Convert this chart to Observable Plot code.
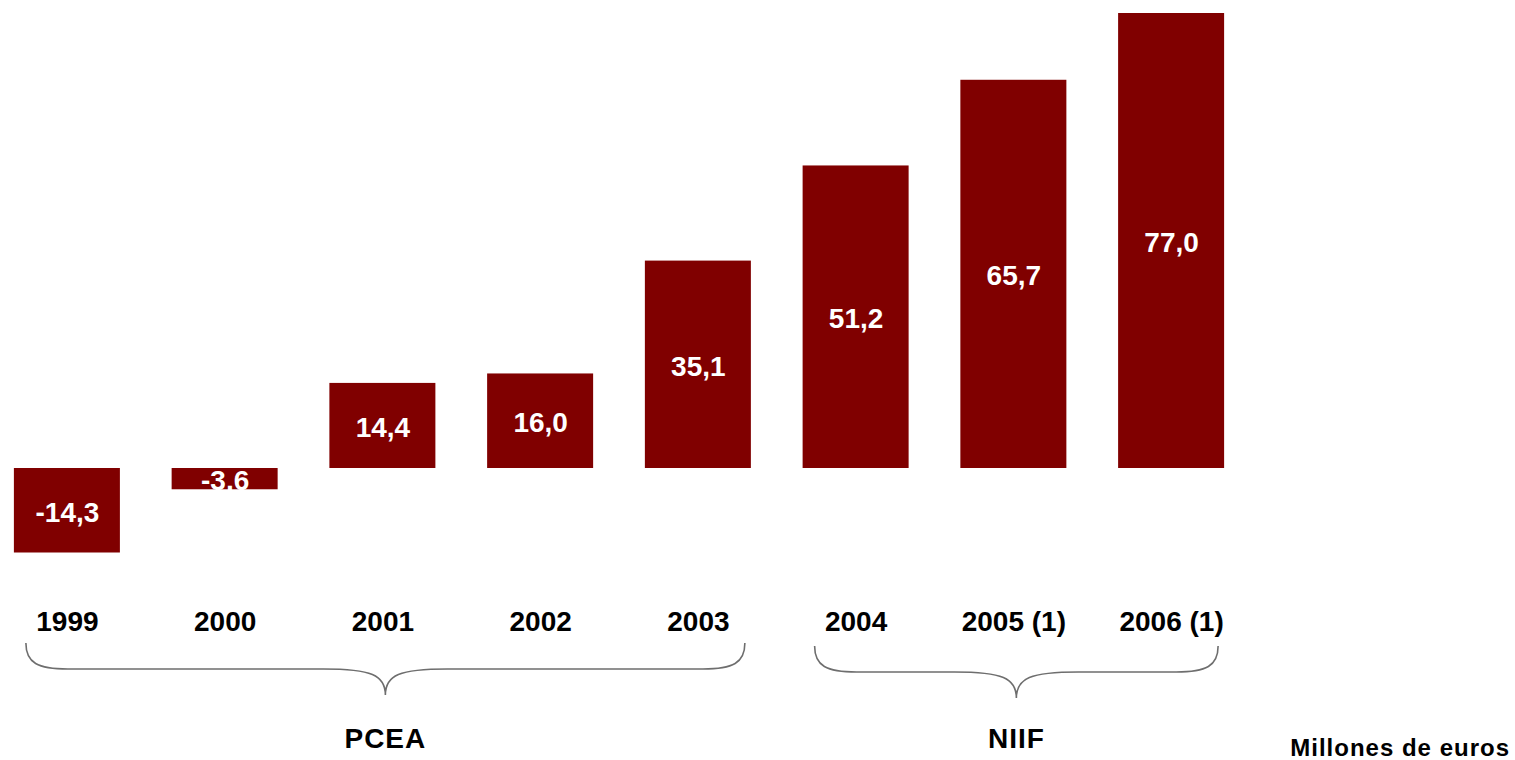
<!DOCTYPE html>
<html>
<head>
<meta charset="utf-8">
<script src="https://cdn.jsdelivr.net/npm/d3@7"></script>
<script src="https://cdn.jsdelivr.net/npm/@observablehq/plot@0.6"></script>
<style>
  html, body { margin: 0; padding: 0; background: #fff; }
  #chart { width: 1515px; height: 760px; overflow: hidden; }
  svg { font-family: "Liberation Sans", Arial, sans-serif; }
</style>
</head>
<body>
<div id="chart"></div>
<script>
const years = ["1999", "2000", "2001", "2002", "2003", "2004", "2005 (1)", "2006 (1)"];
const values = [-14.3, -3.6, 14.4, 16.0, 35.1, 51.2, 65.7, 77.0];
const groupLabels = ["PCEA", "NIIF"];
const groupFrom = ["1999", "2004"];
const groupTo = ["2003", "2006 (1)"];
const unitLabel = "Millones de euros";

const data = years.map((y, i) => ({year: y, value: values[i]}));
const fmt = v => v.toFixed(1).replace(".", ",");

const W = 1515, H = 760;
const plot = Plot.plot({
  width: W,
  height: H,
  marginLeft: 6,
  marginRight: 283,
  marginTop: 13,
  marginBottom: 207.5,
  style: {fontFamily: '"Liberation Sans", Arial, sans-serif', background: "#fff"},
  x: {domain: years, paddingInner: 0.328, paddingOuter: 0.05, round: false, label: null},
  y: {domain: [-14.3, 77], axis: null, label: null},
  marks: [
    Plot.barY(data, {x: "year", y: "value", fill: "#800000"}),
    Plot.text(data, {
      x: "year", y: d => d.value / 2, text: d => fmt(d.value),
      fill: "#fff", fontSize: 28, fontWeight: "bold", dy: 2
    }),
    Plot.axisX({
      anchor: "bottom", tickSize: 0, tickPadding: 58, fontSize: 28,
      fontWeight: "bold", label: null, color: "#000"
    })
  ]
});
document.getElementById("chart").appendChild(plot);

const x = plot.scale("x");
const bw = x.bandwidth;
const svg = d3.select(plot);
svg.selectAll("g[aria-label='x-axis tick label'] text").attr("fill", "#000");

groupLabels.forEach((lab, i) => {
  const x0 = x.apply(groupFrom[i]) + 12;
  const x1 = x.apply(groupTo[i]) + bw - 6;
  const xc = (x0 + x1) / 2;
  const yTop = 643 + i * 3, yMid = yTop + 26, yTip = yMid + 26;
  const r = 42;
  const p = d3.path();
  p.moveTo(x0, yTop);
  p.bezierCurveTo(x0, yMid - 6, x0 + 12, yMid, x0 + r, yMid);
  p.lineTo(xc - r - 20, yMid);
  p.bezierCurveTo(xc - 14, yMid, xc, yMid + 6, xc, yTip);
  p.bezierCurveTo(xc, yMid + 6, xc + 14, yMid, xc + r + 20, yMid);
  p.lineTo(x1 - r, yMid);
  p.bezierCurveTo(x1 - 12, yMid, x1, yMid - 6, x1, yTop);
  svg.append("path").attr("d", p.toString())
    .attr("fill", "none").attr("stroke", "#6e6e6e").attr("stroke-width", 1.6);
  svg.append("text").attr("x", xc).attr("y", 748)
    .attr("text-anchor", "middle").attr("font-size", 28).attr("font-weight", "bold")
    .attr("letter-spacing", 1).attr("fill", "#000").text(lab);
});

svg.append("text").attr("x", 1510).attr("y", 756)
  .attr("text-anchor", "end").attr("font-size", 24).attr("font-weight", "bold")
  .attr("letter-spacing", 1).attr("fill", "#000").text(unitLabel);
</script>
</body>
</html>
